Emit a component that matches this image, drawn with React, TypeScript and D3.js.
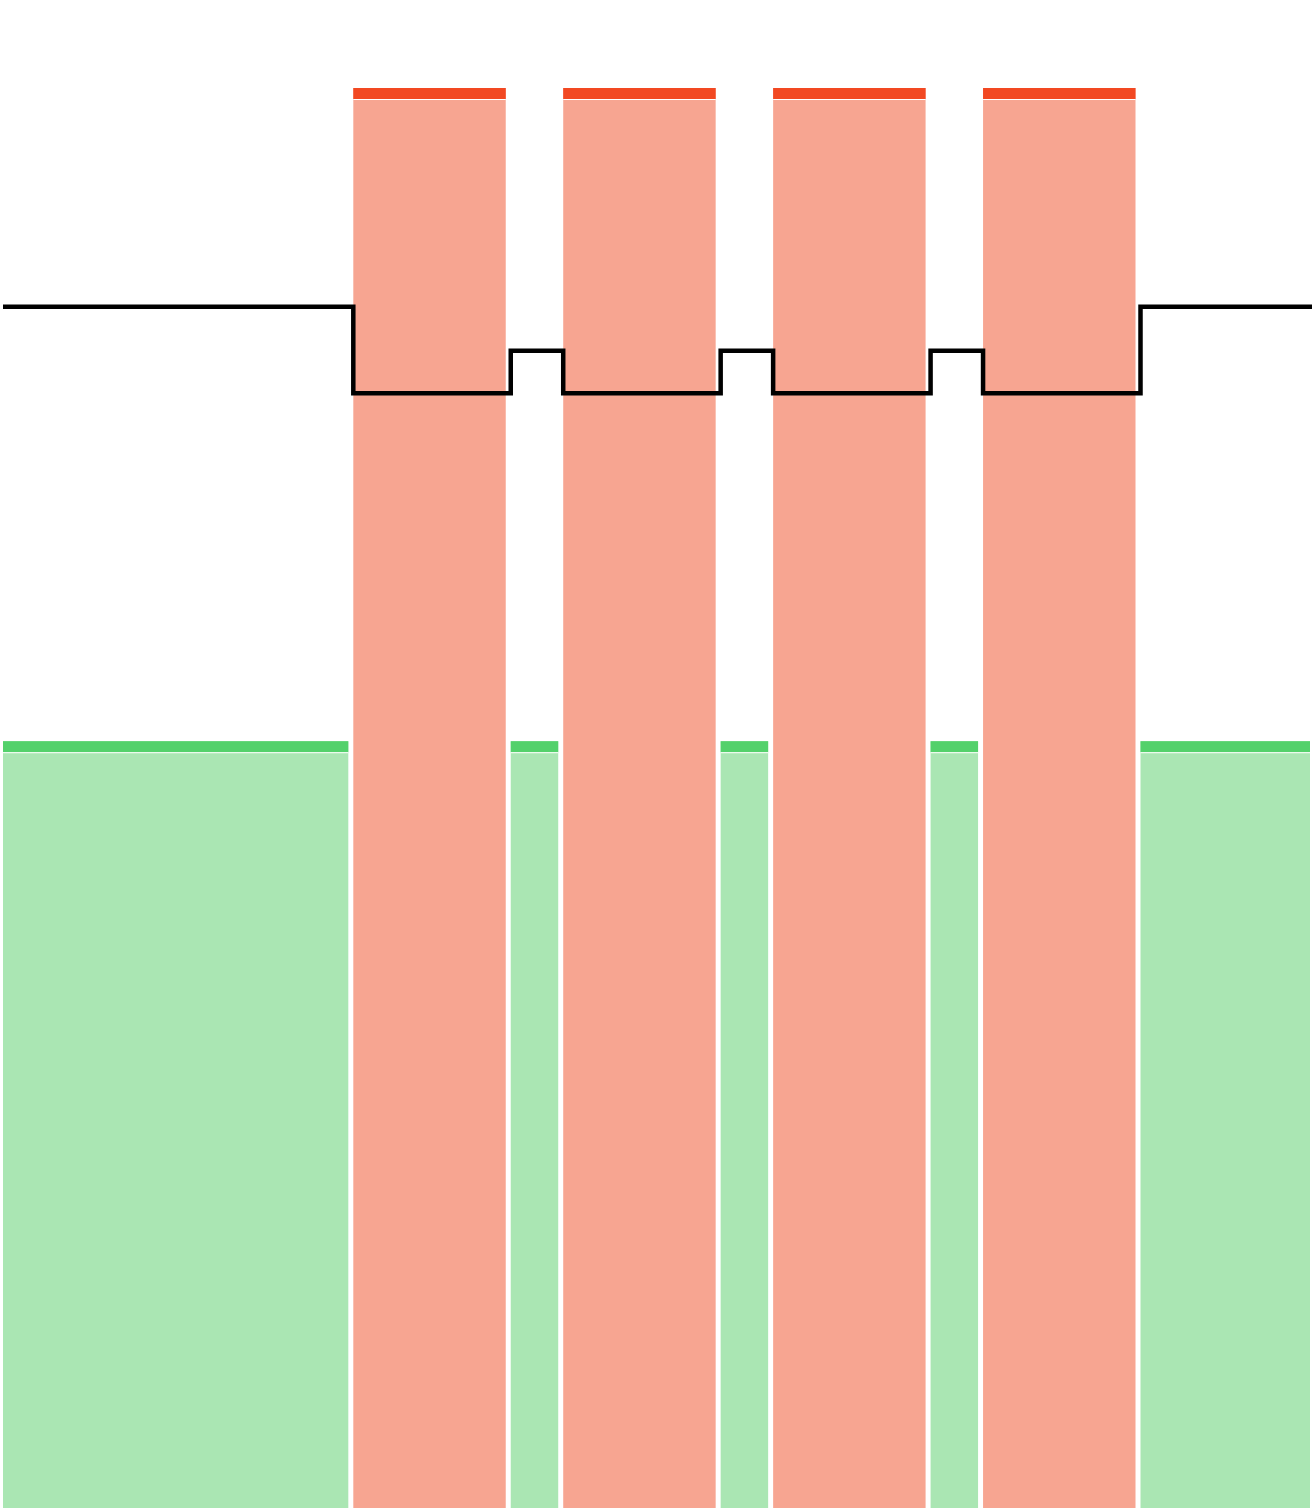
import React, { useEffect, useRef } from "react";
import * as d3 from "d3";

// session timeline: alternating breaks and focus blocks (minutes)
const kinds = ["break", "focus", "break", "focus", "break", "focus", "break", "focus", "break"];
const durations = [133.5, 60, 20, 60, 20, 60, 20, 60, 66.5];
const barValues = [54, 100, 54, 100, 54, 100, 54, 100, 54];
const lineValues = [84.6, 78.5, 81.5, 78.5, 81.5, 78.5, 81.5, 78.5, 84.6];

const colors = {
  focus: { cap: "#f24822", fill: "#f7a591" },
  break: { cap: "#53d16b", fill: "#aae6b3" },
};

const width = 1312;
const height = 1508;
const pad = 2.5;
const capH = 11;

export default function App() {
  const ref = useRef<SVGSVGElement>(null);

  useEffect(() => {
    const svg = d3.select(ref.current);
    svg.selectAll("*").remove();

    const ends = Array.from(d3.cumsum(durations));
    const segs = durations.map((d, i) => ({
      kind: kinds[i],
      start: ends[i] - d,
      end: ends[i],
      value: barValues[i],
      level: lineValues[i],
    }));

    const x = d3.scaleLinear().domain([0, d3.sum(durations)]).range([0.5, width + 0.5]);
    const y = d3.scaleLinear().domain([0, 100]).range([height, 88]);

    const bars = svg.append("g").selectAll("g").data(segs).join("g");

    bars.append("rect")
      .attr("x", (d) => x(d.start) + pad)
      .attr("width", (d) => x(d.end) - x(d.start) - pad * 2)
      .attr("y", (d) => y(d.value))
      .attr("height", (d) => y(0) - y(d.value))
      .attr("fill", (d) => colors[d.kind].fill);

    bars.append("rect")
      .attr("x", (d) => x(d.start) + pad)
      .attr("width", (d) => x(d.end) - x(d.start) - pad * 2)
      .attr("y", (d) => y(d.value))
      .attr("height", capH)
      .attr("fill", (d) => colors[d.kind].cap);

    bars.append("rect")
      .attr("x", (d) => x(d.start) + pad)
      .attr("width", (d) => x(d.end) - x(d.start) - pad * 2)
      .attr("y", (d) => y(d.value) + capH)
      .attr("height", 1)
      .attr("fill", "#ffffff");

    const pts: [number, number][] = segs.map((d) => [x(d.start) + pad, y(d.level)]);
    const last = segs[segs.length - 1];
    pts.push([x(last.end), y(last.level)]);

    const line = d3.line().curve(d3.curveStepAfter);

    svg.append("path")
      .attr("d", line(pts))
      .attr("fill", "none")
      .attr("stroke", "#000")
      .attr("stroke-width", 4.5);
  }, []);

  return (
    <svg
      ref={ref}
      width={width}
      height={height}
      style={{ position: "absolute", left: 0, top: 0, background: "#fff" }}
    />
  );
}
